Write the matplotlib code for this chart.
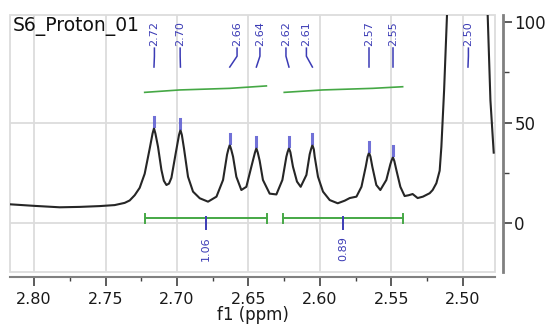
import matplotlib
matplotlib.use('Agg')
import matplotlib.pyplot as plt
from matplotlib.patches import Rectangle
from matplotlib.ticker import MultipleLocator

# spectrum trace (ppm, intensity)
ppm = [2.8170, 2.7995, 2.7820, 2.7680, 2.7541, 2.7436, 2.7366, 2.7331, 2.7296, 2.7261,
       2.7226, 2.7191, 2.7171, 2.7161, 2.7151, 2.7133, 2.7109, 2.7092, 2.7074, 2.7056,
       2.7039, 2.7009, 2.6986, 2.6976, 2.6966, 2.6951, 2.6923, 2.6888, 2.6841, 2.6783,
       2.6724, 2.6678, 2.6650, 2.6641, 2.6631, 2.6621, 2.6608, 2.6585, 2.6550, 2.6515,
       2.6480, 2.6455, 2.6445, 2.6435, 2.6422, 2.6399, 2.6352, 2.6305, 2.6263, 2.6235,
       2.6227, 2.6217, 2.6207, 2.6189, 2.6161, 2.6135, 2.6095, 2.6072, 2.6063, 2.6053,
       2.6043, 2.6037, 2.6014, 2.5979, 2.5932, 2.5876, 2.5827, 2.5792, 2.5745, 2.5710,
       2.5680, 2.5667, 2.5657, 2.5647, 2.5634, 2.5606, 2.5578, 2.5536, 2.5508, 2.5500,
       2.5490, 2.5480, 2.5466, 2.5438, 2.5408, 2.5380, 2.5352, 2.5317, 2.5280, 2.5233,
       2.5212, 2.5186, 2.5163, 2.5151, 2.5132, 2.5112, 2.5100, 2.5058, 2.4969, 2.4876,
       2.4838, 2.4827, 2.4808, 2.4785]
intensity = [9.3, 8.5, 7.8, 8.0, 8.4, 8.9, 10.0, 11.2, 13.8, 17.5,
             24.5, 37.0, 44.5, 47.1, 44.5, 38.0, 26.4, 21.0, 18.9, 19.6,
             22.5, 34.7, 43.8, 46.3, 43.8, 37.0, 23.0, 15.6, 12.3, 10.6,
             13.1, 21.4, 34.0, 36.6, 38.8, 36.6, 33.0, 23.0, 16.4, 18.0,
             28.0, 35.0, 37.2, 35.0, 31.0, 21.4, 14.6, 14.2, 21.4, 33.0,
             35.2, 37.2, 35.2, 28.0, 20.6, 18.0, 23.9, 34.2, 36.6, 38.8,
             36.6, 33.0, 23.0, 15.6, 11.4, 9.8, 11.1, 12.4, 13.1, 18.0,
             28.0, 33.0, 35.0, 33.0, 28.0, 18.9, 16.4, 21.4, 29.2, 31.0,
             32.7, 30.8, 26.4, 18.0, 13.4, 13.8, 14.4, 12.4, 13.1, 14.8,
             16.4, 19.8, 26.0, 38.0, 66.0, 103.0, 140.0, 300.0, 1500.0, 300.0,
             140.0, 103.0, 61.0, 35.0]

# picked peaks
peak_ppm = [2.7161, 2.6976, 2.6631, 2.6445, 2.6217, 2.6053, 2.5657, 2.5490, 2.4965]
peak_height = [47.1, 46.3, 38.8, 37.2, 37.2, 38.8, 35.0, 32.7, None]
peak_labels = ['2.72', '2.70', '2.66', '2.64', '2.62', '2.61', '2.57', '2.55', '2.50']

# integrals
int_from = [2.7226, 2.6259]
int_to = [2.6373, 2.5420]
int_values = ['1.06', '0.89']
int_curve_ppm = [[2.7226, 2.6981, 2.6631, 2.6375], [2.6250, 2.5981, 2.5631, 2.5422]]
int_curve_val = [[65.0, 66.2, 67.0, 68.2], [65.0, 66.2, 67.0, 67.8]]

# where the peak labels sit (shifted so they do not overlap)
label_x = [2.7158, 2.6978, 2.6580, 2.6420, 2.6238, 2.6095, 2.5657, 2.5490, 2.4962]

blue = '#3b3bb5'
green = '#45a845'
grey = '#dcdcdc'

fig = plt.figure(figsize=(5.5, 3.29), dpi=100)
ax = fig.add_axes([10 / 550, 1 - 272 / 329, 485 / 550, 257 / 329])

ax.set_xlim(2.8168, 2.4776)
ax.set_ylim(-24.4, 103.5)

# grid and frame
for x in [2.80, 2.75, 2.70, 2.65, 2.60, 2.55, 2.50]:
    ax.axvline(x, color=grey, lw=1.3, zorder=0)
for y in [0, 50]:
    ax.axhline(y, color=grey, lw=1.3, zorder=0)
ax.add_patch(Rectangle((0, 0), 1, 1, transform=ax.transAxes, fill=False,
                       ec=grey, lw=1.3, zorder=0, clip_on=False))

ax.plot(ppm, intensity, color='#262626', lw=1.5, zorder=3)

# peak markers + labels
for p, h, lx, lab in zip(peak_ppm, peak_height, label_x, peak_labels):
    if h is not None:
        ax.plot([p, p], [h + 1.0, h + 5.5], color='#5858d0', lw=2.2, alpha=0.85, zorder=4)
    ax.plot([lx, lx, p], [87.0, 83.0, 77.6], color=blue, lw=1.1, zorder=4)
    ax.text(lx, 88.3, lab, rotation=90, ha='center', va='bottom', color=blue,
            fontsize=8)

# integral bars, ticks and values
for a, b, v, cx, cy in zip(int_from, int_to, int_values, int_curve_ppm, int_curve_val):
    ax.plot([a, b], [2.3, 2.3], color=green, lw=1.4, zorder=4)
    ax.plot([a, a], [0.2, 4.6], color=green, lw=1.4, zorder=4)
    ax.plot([b, b], [0.2, 4.6], color=green, lw=1.4, zorder=4)
    mid = (a + b) / 2
    ax.plot([mid, mid], [3.0, -3.0], color=blue, lw=1.4, zorder=4)
    ax.text(mid, -6.5, v, rotation=90, ha='center', va='top', color=blue, fontsize=8)
    ax.plot(cx, cy, color=green, lw=1.2, zorder=4)

ax.text(0.005, 0.955, 'S6_Proton_01', transform=ax.transAxes, ha='left', va='center',
        fontsize=13.5, color='#111111')

# axes styling
for s in ['left', 'top']:
    ax.spines[s].set_visible(False)
ax.spines['bottom'].set_position(('outward', 3.6))
ax.spines['right'].set_position(('outward', 5.4))
ax.spines['bottom'].set_color('#808080')
ax.spines['right'].set_color('#808080')
ax.spines['bottom'].set_linewidth(1.5)
ax.spines['right'].set_linewidth(2.0)

ax.xaxis.set_major_locator(MultipleLocator(0.05))
ax.xaxis.set_minor_locator(MultipleLocator(0.025))
ax.yaxis.set_major_locator(MultipleLocator(50))
ax.yaxis.set_minor_locator(MultipleLocator(25))
ax.yaxis.tick_right()
ax.xaxis.set_major_formatter(matplotlib.ticker.FormatStrFormatter('%.2f'))
ax.tick_params(axis='x', which='major', length=6.5, width=1.2, color='#404040',
               labelsize=11.5, pad=4, labelcolor='#1a1a1a')
ax.tick_params(axis='x', which='minor', length=3, width=1.0, color='#404040')
ax.tick_params(axis='y', which='major', length=6.5, width=1.2, color='#404040',
               labelsize=12, pad=2, labelcolor='#1a1a1a')
ax.tick_params(axis='y', which='minor', length=4, width=1.0, color='#404040')
ax.set_xlabel('f1 (ppm)', fontsize=12, labelpad=-0.5, color='#1a1a1a')

fig.savefig('out.png', dpi=100)
